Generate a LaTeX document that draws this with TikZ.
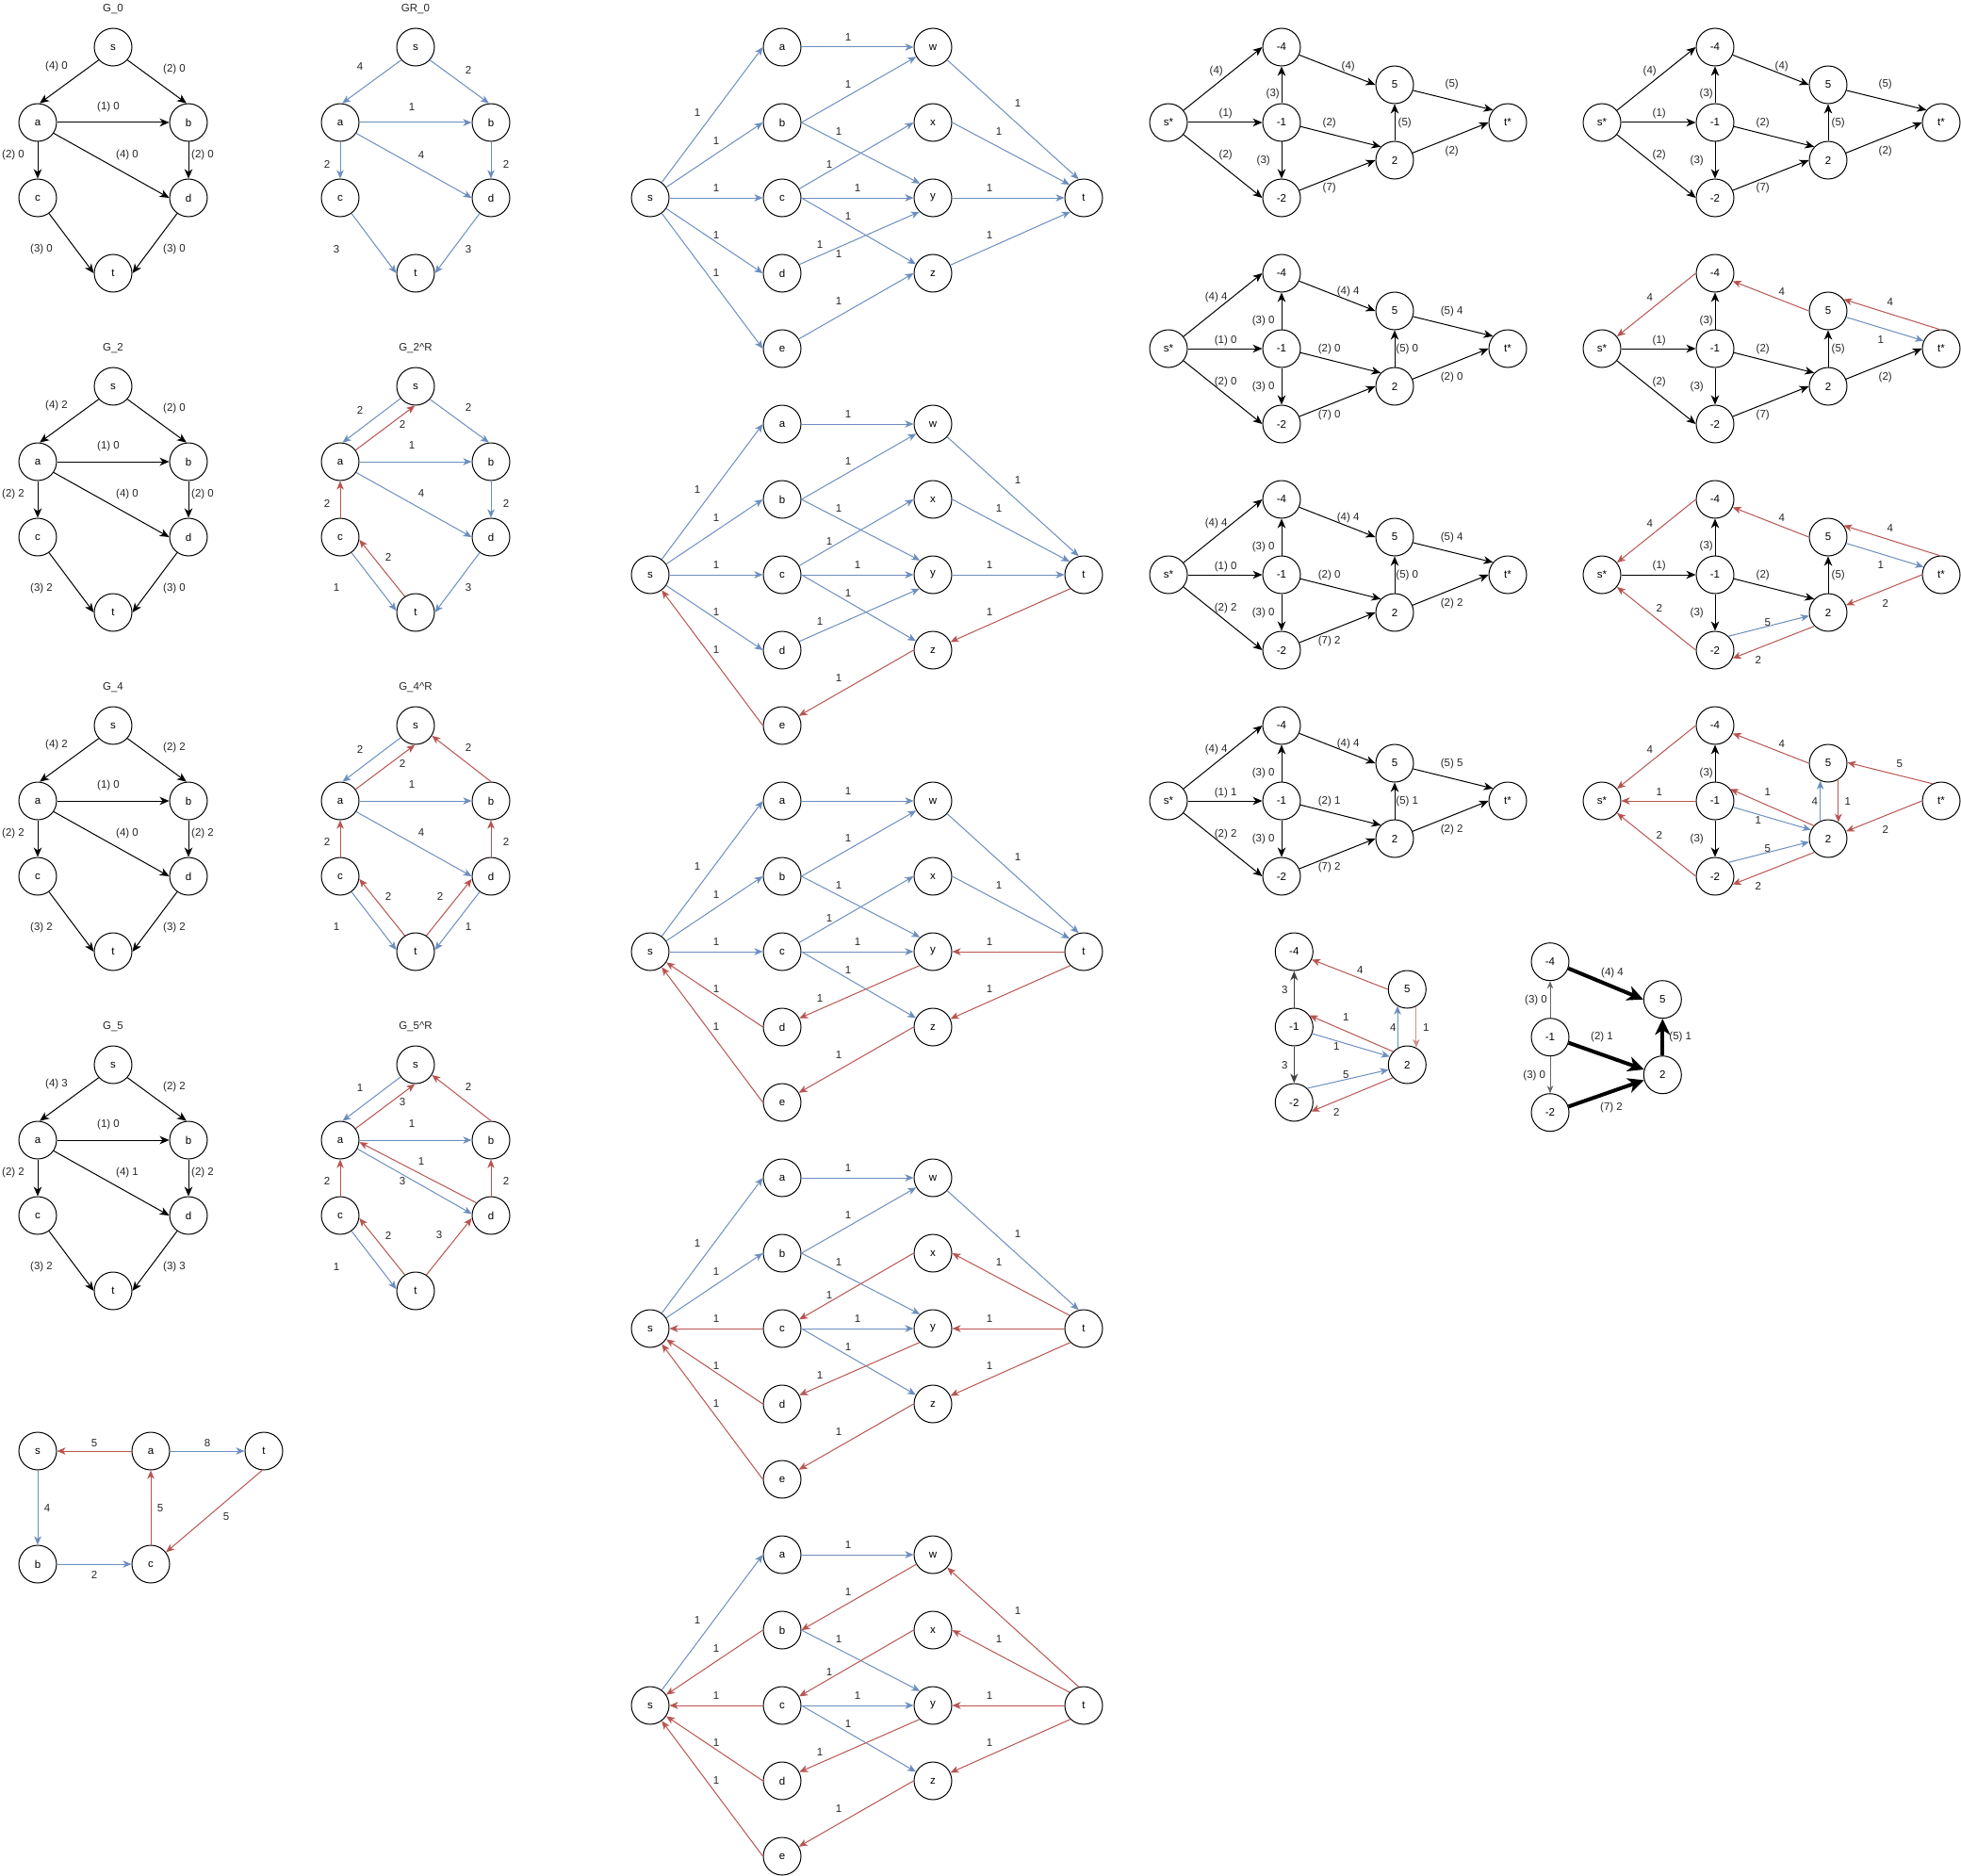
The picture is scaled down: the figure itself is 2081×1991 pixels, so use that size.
\documentclass[tikz,border=0pt]{standalone}
\usepackage{fontspec}
\setmainfont{Liberation Sans}
\usetikzlibrary{arrows.meta}
\definecolor{myblue}{HTML}{6C8EBF}
\definecolor{myred}{HTML}{B85450}
\newcommand\fs{\fontsize{11.5}{13}\selectfont}
\tikzset{
  nd/.style={circle,draw,line width=1pt,minimum size=40pt,inner sep=0pt,font=\fs},
  lbl/.style={font=\fs,inner sep=0pt,text=black!85},
  bk/.style={draw=black,line width=1pt,-{Stealth[length=10pt,width=8.5pt,inset=3pt]}},
  bf/.style={draw=myblue,line width=1pt,-{Stealth[length=9pt,width=7.5pt,inset=2.5pt]}},
  rf/.style={draw=myred,line width=1pt,-{Stealth[length=9pt,width=7.5pt,inset=2.5pt]}},
  rb/.style={draw=myred,line width=1pt,{Stealth[length=9pt,width=7.5pt,inset=2.5pt]}-},
  nodraw/.style={draw=none},
  gk/.style={draw=black!75,line width=1.3pt,-{Stealth[length=10pt,width=8pt,inset=3pt]}},
  gt/.style={draw=black!60,line width=1pt,-{Stealth[length=8pt,width=6.5pt,inset=2.5pt]}},
  bd/.style={draw=black,line width=4pt,-{Stealth[length=17pt,width=16pt,inset=5pt]}},
  eSA/.style=bf, eSB/.style=bf, eSC/.style=bf, eSD/.style=bf, eSE/.style=bf,
  eAW/.style=bf, eBW/.style=bf, eBY/.style=bf, eCX/.style=bf, eCY/.style=bf,
  eCZ/.style=bf, eDY/.style=bf, eEZ/.style=bf, eWT/.style=bf, eXT/.style=bf,
  eYT/.style=bf, eZT/.style=bf,
  rS4/.style=bk, rS1/.style=bk, rS2/.style=bk, r14/.style=bk, r12/.style=bk,
  r45/.style=bk, r1P2/.style=bk, r2P2/.style=bk, rP2P5/.style=bk, rP5T/.style=bk,
  rP2T/.style=bk,
}
\newcommand\Rl[3]{\node[lbl] at (#1,#2) {#3};}
\newcommand\Gnodes{%
  \node[nd] (s) at (0,0) {s};
  \node[nd] (a) at (-80,80) {a};
  \node[nd] (b) at (80,80) {b};
  \node[nd] (c) at (-80,160) {c};
  \node[nd] (d) at (80,160) {d};
  \node[nd] (t) at (0,240) {t};
}
\newcommand\Gblack[9]{%
  \Rl{0}{-40}{#1}
  \Gnodes
  \draw[bk] (s.222) -- (a.84);      \Rl{-60}{21}{#2}
  \draw[bk] (s.318) -- (b.96);      \Rl{65}{24}{#3}
  \draw[bk] (a.east) -- (b.west);   \Rl{-5}{64}{#4}
  \draw[bk] (a.south) -- (c.north); \Rl{-106}{115}{#5}
  \draw[bk] (a.326) -- (d.west);    \Rl{15}{115}{#6}
  \draw[bk] (b.south) -- (d.north); \Rl{95}{115}{#7}
  \draw[bk] (c.306) -- (t.west);    \Rl{-76}{215}{#8}
  \draw[bk] (d.234) -- (t.east);    \Rl{65}{215}{#9}
}
\newcommand\Bnodes{%
  \node[nd] (s) at (0,0) {s};
  \node[nd] (a) at (140,-160) {a};
  \node[nd] (b) at (140,-80) {b};
  \node[nd] (c) at (140,0) {c};
  \node[nd] (d) at (140,80) {d};
  \node[nd] (e) at (140,160) {e};
  \node[nd] (w) at (300,-160) {w};
  \node[nd] (x) at (300,-80) {x};
  \node[nd] (y) at (300,0) {y};
  \node[nd] (z) at (300,80) {z};
  \node[nd] (t) at (460,0) {t};
}
\newcommand\Bgraph{%
  \Bnodes
  \draw[eSA] (s) -- (a.west);      \Rl{50}{-90}{1}
  \draw[eSB] (s) -- (b.west);      \Rl{70}{-60}{1}
  \draw[eSC] (s) -- (c.west);      \Rl{70}{-10}{1}
  \draw[eSD] (s) -- (d.west);      \Rl{70}{40}{1}
  \draw[eSE] (s) -- (e.west);      \Rl{70}{80}{1}
  \draw[eAW] (a.east) -- (w.west); \Rl{210}{-170}{1}
  \draw[eBW] (b.east) -- (w.210);  \Rl{210}{-120}{1}
  \draw[eBY] (b.east) -- (y.132);  \Rl{200}{-70}{1}
  \draw[eCX] (c.28) -- (x.west);   \Rl{190}{-35}{1}
  \draw[eCY] (c.east) -- (y.west); \Rl{220}{-10}{1}
  \draw[eCZ] (c.east) -- (z.152);  \Rl{210}{20}{1}
  \draw[eDY] (d.27) -- (y.226);    \Rl{180}{50}{1}
  \draw[eEZ] (e.30) -- (z.west);   \Rl{200}{110}{1}
  \draw[eWT] (w.318) -- (t.105);   \Rl{390}{-100}{1}
  \draw[eXT] (x.east) -- (t.137);  \Rl{370}{-70}{1}
  \draw[eYT] (y.east) -- (t.west); \Rl{360}{-10}{1}
  \draw[eZT] (z.25) -- (t.226);    \Rl{360}{40}{1}
}
\newcommand\Rnodes{%
  \node[nd] (ss) at (0,0) {s*};
  \node[nd] (n4) at (120,-80) {-4};
  \node[nd] (n1) at (120,0) {-1};
  \node[nd] (n2) at (120,80) {-2};
  \node[nd] (p5) at (240,-40) {5};
  \node[nd] (p2) at (240,40) {2};
  \node[nd] (ts) at (360,0) {t*};
}
\newcommand\Redges{%
  \draw[rS4] (ss.39) -- (n4.west);
  \draw[rS1] (ss.east) -- (n1.west);
  \draw[rS2] (ss.321) -- (n2.west);
  \draw[r14] (n1.north) -- (n4.south);
  \draw[r12] (n1.south) -- (n2.north);
  \draw[r45] (n4.336) -- (p5.west);
  \draw[r1P2] (n1.348) -- (p2.136);
  \draw[r2P2] (n2.23) -- (p2.west);
  \draw[rP2P5] (p2.north) -- (p5.south);
  \draw[rP5T] (p5.343) -- (ts.140);
  \draw[rP2T] (p2.22) -- (ts.west);
}
\newcommand\RlabOne{%
  \Rl{50.7}{-54}{(4)} \Rl{60.7}{-9}{(1)} \Rl{60.7}{35}{(2)}
  \Rl{110.7}{-30}{(3)} \Rl{100.7}{40.6}{(3)} \Rl{190.7}{-59.7}{(4)}
  \Rl{170.7}{0.3}{(2)} \Rl{170.7}{70}{(7)} \Rl{250.7}{0.3}{(5)}
  \Rl{300.7}{-40}{(5)} \Rl{300.7}{30.3}{(2)}
}
\newcommand\RlabTwo[9]{%
  \Rl{50.7}{-54}{#1} \Rl{60.7}{-8.7}{#2} \Rl{60.7}{36}{#3}
  \Rl{100.7}{-29.3}{#4} \Rl{100.7}{40.7}{#5} \Rl{190.7}{-60}{#6}
  \Rl{170.7}{0.7}{#7} \Rl{170.7}{70.7}{#8} \Rl{253.3}{0.7}{#9}
  \RlabTwoB}
\newcommand\RlabTwoB[2]{\Rl{300.7}{-39.3}{#1} \Rl{300.7}{30.7}{#2}}
\begin{document}
\begin{tikzpicture}[x=1pt,y=-1pt]
\useasboundingbox (0,0) rectangle (2081,1991);

% ---------- left column: G graphs ----------
\begin{scope}[shift={(120,50)},name prefix=G0-]
\Gblack{G\_0}{(4) 0}{(2) 0}{(1) 0}{(2) 0}{(4) 0}{(2) 0}{(3) 0}{(3) 0}
\end{scope}
\begin{scope}[shift={(120,410)},name prefix=G2-]
\Gblack{G\_2}{(4) 2}{(2) 0}{(1) 0}{(2) 2}{(4) 0}{(2) 0}{(3) 2}{(3) 0}
\end{scope}
\begin{scope}[shift={(120,770)},name prefix=G4-]
\Gblack{G\_4}{(4) 2}{(2) 2}{(1) 0}{(2) 2}{(4) 0}{(2) 2}{(3) 2}{(3) 2}
\end{scope}
\begin{scope}[shift={(120,1130)},name prefix=G5-]
\Gblack{G\_5}{(4) 3}{(2) 2}{(1) 0}{(2) 2}{(4) 1}{(2) 2}{(3) 2}{(3) 3}
\end{scope}

% ---------- residual graphs ----------
\begin{scope}[shift={(441,50)},name prefix=R0-]
\Rl{0}{-40}{GR\_0}
\Gnodes
\draw[bf] (s.222) -- (a.84);      \Rl{-59}{21}{4}
\draw[bf] (s.318) -- (b.96);      \Rl{56}{24}{2}
\draw[bf] (a.east) -- (b.west);   \Rl{-4}{64}{1}
\draw[bf] (a.south) -- (c.north); \Rl{-94}{124}{2}
\draw[bf] (a.326) -- (d.west);    \Rl{6}{115}{4}
\draw[bf] (b.south) -- (d.north); \Rl{96}{124}{2}
\draw[bf] (c.306) -- (t.west);    \Rl{-84}{215}{3}
\draw[bf] (d.234) -- (t.east);    \Rl{56}{215}{3}
\end{scope}

\begin{scope}[shift={(441,410)},name prefix=R2-]
\Rl{0}{-40}{G\_2\textasciicircum R}
\Gnodes
\draw[bf] (s.219) -- (a.83);      \Rl{-59}{25}{2}
\draw[rf] (a.37) -- (s.268);      \Rl{-14}{40}{2}
\draw[bf] (s.318) -- (b.96);      \Rl{56}{22}{2}
\draw[bf] (a.east) -- (b.west);   \Rl{-4}{63}{1}
\draw[bf] (a.326) -- (d.west);    \Rl{6}{114}{4}
\draw[bf] (b.south) -- (d.north); \Rl{96}{124}{2}
\draw[rf] (c.north) -- (a.south); \Rl{-94}{124}{2}
\draw[rf] (t.124) -- (c.352);     \Rl{-29}{181}{2}
\draw[bf] (c.306) -- (t.175);     \Rl{-84}{214}{1}
\draw[bf] (d.234) -- (t.east);    \Rl{56}{214}{3}
\end{scope}

\begin{scope}[shift={(441,770)},name prefix=R4-]
\Rl{0}{-40}{G\_4\textasciicircum R}
\Gnodes
\draw[bf] (s.219) -- (a.83);      \Rl{-59}{25}{2}
\draw[rf] (a.37) -- (s.268);      \Rl{-14}{40}{2}
\draw[rf] (b.north) -- (s.328);   \Rl{56}{23}{2}
\draw[bf] (a.east) -- (b.west);   \Rl{-4}{63}{1}
\draw[bf] (a.326) -- (d.west);    \Rl{6}{114}{4}
\draw[rf] (d.north) -- (b.south); \Rl{96}{123.5}{2}
\draw[rf] (c.north) -- (a.south); \Rl{-94}{123.5}{2}
\draw[rf] (t.124) -- (c.352);     \Rl{-29}{181}{2}
\draw[bf] (c.306) -- (t.175);     \Rl{-84}{214}{1}
\draw[rf] (t.56) -- (d.188);      \Rl{26}{181}{2}
\draw[bf] (d.234) -- (t.5);       \Rl{56}{214}{1}
\end{scope}

\begin{scope}[shift={(441,1130)},name prefix=R5-]
\Rl{0}{-40}{G\_5\textasciicircum R}
\Gnodes
\draw[bf] (s.219) -- (a.83);      \Rl{-59}{25}{1}
\draw[rf] (a.37) -- (s.268);      \Rl{-14}{40}{3}
\draw[rf] (b.north) -- (s.328);   \Rl{56}{23}{2}
\draw[bf] (a.east) -- (b.west);   \Rl{-4}{63}{1}
\draw[rf] (d.139) -- (a.354);     \Rl{6}{103}{1}
\draw[bf] (a.333) -- (d.175);     \Rl{-14}{123.5}{3}
\draw[rf] (d.north) -- (b.south); \Rl{96}{123.5}{2}
\draw[rf] (c.north) -- (a.south); \Rl{-94}{123.5}{2}
\draw[rf] (t.124) -- (c.352);     \Rl{-29}{181}{2}
\draw[bf] (c.306) -- (t.175);     \Rl{-84}{214.5}{1}
\draw[rf] (t.56) -- (d.188);      \Rl{25}{181}{3}
\end{scope}

% ---------- bottom-left small graph ----------
\begin{scope}[name prefix=L-]
\node[nd] (s) at (40,1540) {s};
\node[nd] (a) at (160,1540) {a};
\node[nd] (t) at (280,1540) {t};
\node[nd] (b) at (40,1660) {b};
\node[nd] (c) at (160,1660) {c};
\draw[rf] (a.west) -- (s.east);   \Rl{100}{1531.7}{5}
\draw[bf] (a.east) -- (t.west);   \Rl{220}{1531.7}{8}
\draw[bf] (s.south) -- (b.north); \Rl{50}{1601}{4}
\draw[bf] (b.east) -- (c.west);   \Rl{100}{1671.7}{2}
\draw[rf] (c.north) -- (a.south); \Rl{170}{1601}{5}
\draw[rf] (t.265) -- (c.38);      \Rl{240}{1610}{5}
\end{scope}

% ---------- bipartite graphs ----------
\begin{scope}[shift={(690,210)},name prefix=B1-]
\Bgraph
\Rl{200}{60}{1}
\end{scope}
\begin{scope}[shift={(690,610)},name prefix=B2-,eZT/.style=rb,eEZ/.style=rb,eSE/.style=rb]
\Bgraph
\end{scope}
\begin{scope}[shift={(690,1010)},name prefix=B3-,eZT/.style=rb,eEZ/.style=rb,eSE/.style=rb,
  eYT/.style=rb,eDY/.style=rb,eSD/.style=rb]
\Bgraph
\end{scope}
\begin{scope}[shift={(690,1410)},name prefix=B4-,eZT/.style=rb,eEZ/.style=rb,eSE/.style=rb,
  eYT/.style=rb,eDY/.style=rb,eSD/.style=rb,eXT/.style=rb,eCX/.style=rb,eSC/.style=rb]
\Bgraph
\end{scope}
\begin{scope}[shift={(690,1810)},name prefix=B5-,eZT/.style=rb,eEZ/.style=rb,eSE/.style=rb,
  eYT/.style=rb,eDY/.style=rb,eSD/.style=rb,eXT/.style=rb,eCX/.style=rb,eSC/.style=rb,
  eWT/.style=rb,eBW/.style=rb,eSB/.style=rb]
\Bgraph
\end{scope}

% ---------- right: column 1 ----------
\begin{scope}[shift={(1240,130)},name prefix=P1-]
\Rnodes \Redges \RlabOne
\end{scope}
\begin{scope}[shift={(1240,370)},name prefix=P2-]
\Rnodes \Redges
\RlabTwo{(4) 4}{(1) 0}{(2) 0}{(3) 0}{(3) 0}{(4) 4}{(2) 0}{(7) 0}{(5) 0}{(5) 4}{(2) 0}
\end{scope}
\begin{scope}[shift={(1240,610)},name prefix=P3-]
\Rnodes \Redges
\RlabTwo{(4) 4}{(1) 0}{(2) 2}{(3) 0}{(3) 0}{(4) 4}{(2) 0}{(7) 2}{(5) 0}{(5) 4}{(2) 2}
\end{scope}
\begin{scope}[shift={(1240,850)},name prefix=P4-]
\Rnodes \Redges
\RlabTwo{(4) 4}{(1) 1}{(2) 2}{(3) 0}{(3) 0}{(4) 4}{(2) 1}{(7) 2}{(5) 1}{(5) 5}{(2) 2}
\end{scope}

% ---------- right: column 2 ----------
\begin{scope}[shift={(1700,130)},name prefix=Q1-]
\Rnodes \Redges \RlabOne
\end{scope}
\begin{scope}[shift={(1700,370)},name prefix=Q2-,rS4/.style=rb,r45/.style=rb,rP5T/.style=nodraw]
\Rnodes \Redges
\draw[rf] (ts.95) -- (p5.37);
\draw[bf] (p5.341) -- (ts.156);
\Rl{50.7}{-54}{4} \Rl{60.7}{-8.7}{(1)} \Rl{60.7}{36}{(2)}
\Rl{110.7}{-29.3}{(3)} \Rl{100.7}{40.7}{(3)} \Rl{190.7}{-60}{4}
\Rl{170.7}{0.7}{(2)} \Rl{170.7}{70.7}{(7)} \Rl{250.7}{0.7}{(5)}
\Rl{305.7}{-49}{4} \Rl{295.7}{-9.3}{1} \Rl{300.7}{30.7}{(2)}
\end{scope}
\begin{scope}[shift={(1700,610)},name prefix=Q3-,rS4/.style=rb,rS2/.style=rb,r45/.style=rb,
  r2P2/.style=nodraw,rP5T/.style=nodraw,rP2T/.style=rb]
\Rnodes \Redges
\draw[bf] (n2.46) -- (p2.190);
\draw[rf] (p2.225) -- (n2.335);
\draw[rf] (ts.95) -- (p5.37);
\draw[bf] (p5.341) -- (ts.156);
\Rl{50.7}{-54.7}{4} \Rl{60.7}{-9}{(1)} \Rl{60.7}{35}{2}
\Rl{110.7}{-30}{(3)} \Rl{100.7}{40.7}{(3)} \Rl{190.7}{-60.7}{4}
\Rl{170.7}{0.3}{(2)} \Rl{175.7}{50.3}{5} \Rl{165.7}{90}{2}
\Rl{250.7}{0.3}{(5)} \Rl{305.7}{-49.7}{4} \Rl{295.7}{-10}{1}
\Rl{300.7}{30}{2}
\end{scope}
\begin{scope}[shift={(1700,850)},name prefix=Q4-,rS4/.style=rb,rS1/.style=rb,rS2/.style=rb,
  r45/.style=rb,r1P2/.style=nodraw,r2P2/.style=nodraw,rP2P5/.style=nodraw,
  rP5T/.style=nodraw,rP2T/.style=rb]
\Rnodes \Redges
\draw[rf] (p2.138) -- (n1.38);
\draw[bf] (n1.341) -- (p2.153);
\draw[bf] (n2.46) -- (p2.190);
\draw[rf] (p2.225) -- (n2.335);
\draw[bf] (p2.114) -- (p5.246);
\draw[rf] (p5.302) -- (p2.58);
\draw[rf] (ts.117) -- (p5.2);
\Rl{50.7}{-54}{4} \Rl{60.7}{-9.3}{1} \Rl{60.7}{36}{2}
\Rl{110.7}{-29.3}{(3)} \Rl{100.7}{40.7}{(3)} \Rl{190.7}{-60}{4}
\Rl{175.7}{-9.3}{1} \Rl{165.7}{20.7}{1} \Rl{175.7}{50.7}{5}
\Rl{165.7}{90.7}{2} \Rl{225.7}{0.7}{4} \Rl{260.7}{0.7}{1}
\Rl{315.7}{-39}{5} \Rl{300.7}{30.7}{2}
\end{scope}

% ---------- small residual graph ----------
\begin{scope}[shift={(1373.3,1090)},name prefix=S-]
\node[nd] (n4) at (0,-80) {-4};
\node[nd] (n1) at (0,0) {-1};
\node[nd] (n2) at (0,80) {-2};
\node[nd] (p5) at (120,-40) {5};
\node[nd] (p2) at (120,40) {2};
\draw[gk] (n1.north) -- (n4.south); \Rl{-10}{-39.3}{3}
\draw[gk] (n1.south) -- (n2.north); \Rl{-10}{40.7}{3}
\draw[rf] (p5.west) -- (n4.336);    \Rl{70}{-60}{4}
\draw[rf] (p2.137) -- (n1.37);      \Rl{55}{-10}{1}
\draw[bf] (n1.340) -- (p2.155);     \Rl{45}{20.7}{1}
\draw[bf] (n2.47) -- (p2.195);      \Rl{55}{50.7}{5}
\draw[rf] (p2.222) -- (n2.332);     \Rl{45}{90.7}{2}
\draw[bf] (p2.120) -- (p5.240);     \Rl{105}{0.7}{4}
\draw[rf,draw=myred!65] (p5.298) -- (p2.62); \Rl{140}{0.7}{1}
\end{scope}

% ---------- bold graph ----------
\begin{scope}[shift={(1645,1100.7)},name prefix=H-]
\node[nd] (n4) at (0,-80) {-4};
\node[nd] (n1) at (0,0) {-1};
\node[nd] (n2) at (0,80) {-2};
\node[nd] (p5) at (119.3,-40) {5};
\node[nd] (p2) at (119.3,40) {2};
\draw[gt] (n1.north) -- (n4.south); \Rl{-15}{-39}{(3) 0}
\draw[gt] (n1.south) -- (n2.north); \Rl{-16.7}{41}{(3) 0}
\draw[bd] (n4.340) -- (p5.west);    \Rl{66}{-68}{(4) 4}
\draw[bd] (n1.343) -- (p2.164);     \Rl{55}{0}{(2) 1}
\draw[bd] (n2.18) -- (p2.196);      \Rl{65}{75}{(7) 2}
\draw[bd] (p2.north) -- (p5.south); \Rl{138.3}{0}{(5) 1}
\end{scope}
\end{tikzpicture}
\end{document}
